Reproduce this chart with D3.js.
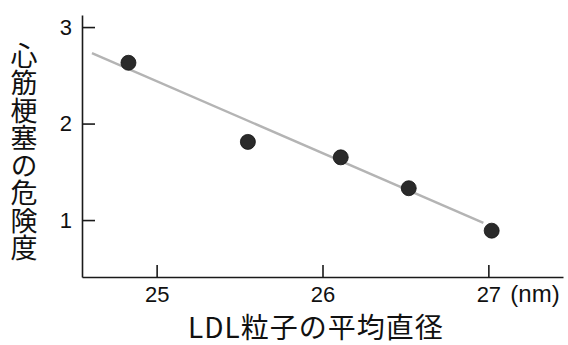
<!DOCTYPE html>
<html>
<head>
<meta charset="utf-8">
<script src="https://cdn.jsdelivr.net/npm/d3@7"></script>
<style>
  body { margin: 0; background: #fff; }
  .axis path, .axis line { stroke: #1a1a1a; stroke-width: 1.6; }
  .axis text { font-family: "Liberation Sans", Arial, sans-serif; font-size: 22px; fill: #111; }
</style>
</head>
<body>
<div id="chart"></div>
<script>
// LDL particle diameter (nm) vs. risk of myocardial infarction
const diameters = [24.83, 25.55, 26.11, 26.52, 27.02];
const risks = [2.63, 1.81, 1.65, 1.33, 0.89];

// regression line end points
const fitX = [24.61, 26.97];
const fitY = [2.73, 0.97];

const xTicks = [25, 26, 27];
const yTicks = [1, 2, 3];

const yLabel = "心筋梗塞の危険度";
const xLabel = "LDL粒子の平均直径";
const xUnit = "(nm)";

const width = 568, height = 345;
const margin = { left: 82, right: 5, top: 15, bottom: 68 };

const svg = d3.select("#chart")
  .append("svg")
  .attr("width", width)
  .attr("height", height);

const xScale = d3.scaleLinear()
  .domain([24.55, 27.45])
  .range([margin.left, width - margin.right]);

const yScale = d3.scaleLinear()
  .domain([0.41, 3.125])
  .range([height - margin.bottom, margin.top]);

// axes, ticks point inward
const xAxis = d3.axisBottom(xScale)
  .tickValues(xTicks)
  .tickFormat(d3.format("d"))
  .tickSize(-12)
  .tickSizeOuter(0);

const yAxis = d3.axisLeft(yScale)
  .tickValues(yTicks)
  .tickFormat(d3.format("d"))
  .tickSize(-13)
  .tickPadding(10)
  .tickSizeOuter(0);

svg.append("g")
  .attr("class", "x axis")
  .attr("transform", `translate(0,${height - margin.bottom})`)
  .call(xAxis);

svg.append("g")
  .attr("class", "y axis")
  .attr("transform", `translate(${margin.left},0)`)
  .call(yAxis);

svg.selectAll(".x.axis text")
  .attr("y", 25)
  .attr("dy", 0);

// fitted line
const fit = fitX.map((d, i) => [d, fitY[i]]);
svg.append("path")
  .datum(fit)
  .attr("fill", "none")
  .attr("stroke", "#b4b4b4")
  .attr("stroke-width", 2.4)
  .attr("d", d3.line().x(d => xScale(d[0])).y(d => yScale(d[1])));

// data points
svg.selectAll("circle.pt")
  .data(diameters)
  .join("circle")
  .attr("class", "pt")
  .attr("cx", d => xScale(d))
  .attr("cy", (d, i) => yScale(risks[i]))
  .attr("r", 7.5)
  .attr("fill", "#2a2a2a")
  .attr("stroke", "#111")
  .attr("stroke-width", 0.8);

// unit next to the last tick
svg.append("text")
  .attr("x", xScale(27) + 22)
  .attr("y", height - margin.bottom + 25)
  .attr("font-family", "'Liberation Sans', Arial, sans-serif")
  .attr("font-size", 24)
  .attr("fill", "#111")
  .text(xUnit);

// x label
svg.append("text")
  .attr("x", 188)
  .attr("y", 338)
  .attr("font-family", "'Noto Sans CJK JP', sans-serif")
  .attr("font-size", 28)
  .attr("letter-spacing", 1)
  .attr("fill", "#111")
  .text(xLabel);

// y label, one character per text, stacked top to bottom
svg.append("g")
  .selectAll("text")
  .data(Array.from(yLabel))
  .join("text")
  .attr("x", 24)
  .attr("y", (d, i) => 42 + i * 27.5)
  .attr("writing-mode", "vertical-rl")
  .style("text-orientation", "upright")
  .attr("font-family", "'Noto Sans CJK JP', sans-serif")
  .attr("font-size", 27)
  .attr("fill", "#111")
  .text(d => d);
</script>
</body>
</html>
